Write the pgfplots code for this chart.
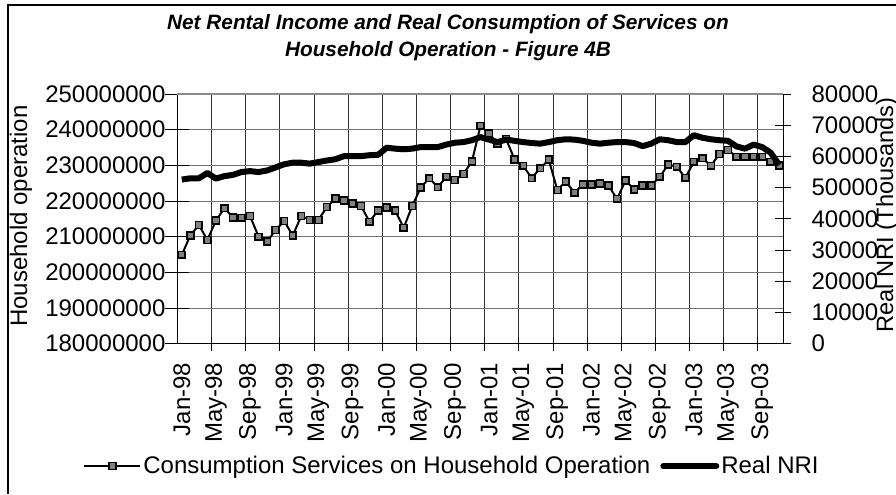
\documentclass[border=0pt]{standalone}
\usepackage{pgfplots}
\pgfplotsset{compat=1.18}
\usepackage{pgfplotstable}
\usepackage{fontspec}
\setmainfont{Liberation Sans}

\pgfplotstableread{
idx cons nri
0 204900000 52600
1 210300000 53000
2 213300000 53000
3 209100000 54700
4 214500000 52900
5 218000000 53700
6 215400000 54100
7 215300000 55000
8 215800000 55300
9 210000000 55000
10 208600000 55500
11 211900000 56500
12 214400000 57500
13 210300000 58000
14 215800000 58000
15 214700000 57700
16 214700000 58200
17 218300000 58700
18 220700000 59100
19 220200000 60100
20 219300000 60100
21 218600000 60100
22 214200000 60400
23 217400000 60500
24 218200000 62800
25 217300000 62500
26 212500000 62300
27 218600000 62500
28 223800000 63000
29 226400000 63000
30 223900000 63000
31 226800000 63800
32 225900000 64400
33 227600000 64600
34 231100000 65200
35 241100000 66200
36 238900000 65400
37 236100000 64600
38 237400000 65400
39 231600000 65000
40 229900000 64600
41 226400000 64300
42 229200000 64100
43 231600000 64600
44 223100000 65200
45 225500000 65500
46 222300000 65400
47 224600000 65000
48 224600000 64400
49 224900000 64100
50 224300000 64400
51 220600000 64600
52 225800000 64600
53 223200000 64300
54 224400000 63300
55 224400000 64100
56 226800000 65500
57 230200000 65200
58 229600000 64600
59 226500000 64600
60 231000000 66800
61 232000000 66000
62 229900000 65500
63 233200000 65200
64 234300000 65000
65 232400000 63200
66 232400000 62500
67 232400000 63800
68 232400000 63000
69 231000000 61200
70 230000000 57300
}\datatable

\newcommand{\tickfont}{\fontsize{12}{14}\selectfont}

\begin{document}
\begin{tikzpicture}
% outer chart border (left and top visible)
\draw[black, line width=0.75pt] (4pt,-247pt) -- (4pt,-2.5pt) -- (448pt,-2.5pt);

% title
\node[anchor=base, font=\fontsize{10.4}{12}\selectfont\bfseries\itshape] at (224pt,-14.5pt) {Net Rental Income and Real Consumption of Services on};
\node[anchor=base, font=\fontsize{10.4}{12}\selectfont\bfseries\itshape] at (224pt,-28pt) {Household Operation - Figure 4B};

% axis titles
\node[rotate=90, anchor=base, font=\fontsize{12}{14}\selectfont] at (13.5pt,-108pt) {Household operation};
\node[rotate=90, anchor=base, font=\fontsize{11.8}{14}\selectfont] at (446.5pt,-107.5pt) {Real NRI (Thousands)};

\begin{axis}[
  at={(88.75pt,-171.85pt)}, anchor=south west,
  scale only axis, width=303pt, height=124.85pt,
  xmin=-0.5, xmax=70.5,
  ymin=180000000, ymax=250000000,
  axis x line*=bottom, axis y line*=left,
  axis line style={black, line width=0.6pt},
  ytick={180000000,190000000,200000000,210000000,220000000,230000000,240000000,250000000},
  scaled y ticks=false,
  /pgf/number format/assume math mode=true,
  yticklabel style={/pgf/number format/fixed, /pgf/number format/1000 sep={}, /pgf/number format/precision=0, font=\tickfont, xshift=3.5pt},
  xtick={0,4,...,68},
  xticklabels={Jan-98,May-98,Sep-98,Jan-99,May-99,Sep-99,Jan-00,May-00,Sep-00,Jan-01,May-01,Sep-01,Jan-02,May-02,Sep-02,Jan-03,May-03,Sep-03},
  x tick label style={rotate=90, anchor=east, font=\tickfont},
  major x tick style={draw=none},
  minor xtick={3.5,7.5,...,67.5},
  xminorgrids,
  minor x grid style={black!80, line width=0.5pt},
  ymajorgrids,
  major y grid style={black!55, line width=0.5pt},
  tick align=center,
  major tick length=12pt,
  minor tick length=7pt,
  tick style={black, line width=0.5pt},
  clip=false,
]
\addplot[black, line width=1pt, mark=square*, mark size=1.7pt,
  mark options={fill=black!50, draw=black, line width=0.8pt, solid}]
  table[x=idx, y=cons]{\datatable};
\end{axis}

\begin{axis}[
  at={(88.75pt,-171.85pt)}, anchor=south west,
  scale only axis, width=303pt, height=124.85pt,
  xmin=-0.5, xmax=70.5,
  ymin=0, ymax=80000,
  axis x line*=top, axis y line*=right,
  x axis line style={black!45, line width=0.6pt},
  y axis line style={black, line width=0.6pt},
  xtick=\empty,
  ytick={0,10000,20000,30000,40000,50000,60000,70000,80000},
  scaled y ticks=false,
  /pgf/number format/assume math mode=true,
  yticklabel style={/pgf/number format/fixed, /pgf/number format/1000 sep={}, font=\tickfont, xshift=6.5pt},
  tick align=center,
  major tick length=8pt,
  tick style={black, line width=0.5pt},
  legend columns=2,
  legend style={at={(0.453,-0.49)}, anchor=center, draw=none, fill=none,
    font=\fontsize{12}{14}\selectfont, nodes={inner sep=1pt},
    column sep=0pt},
  legend cell align=left,
  legend image code/.code={\draw[#1] (0pt,0pt) -- (28pt,0pt); \draw[#1] plot coordinates {(14pt,0pt)};},
]
\addlegendimage{black, line width=1pt, mark=square*, mark size=1.7pt,
  mark options={fill=black!50, draw=black, line width=0.8pt, solid}}
\addlegendentry{Consumption Services on Household Operation\kern4pt}
\addplot[black, line width=3pt, line join=round,
  legend image code/.code={\draw[black, line width=3pt, line cap=round] (1.5pt,0pt) -- (28pt,0pt);}]
  table[x=idx, y=nri]{\datatable};
\addlegendentry{Real NRI}
\end{axis}

\pgfresetboundingbox
\path (0pt,0pt) rectangle (448pt,-247pt);
\end{tikzpicture}
\end{document}
